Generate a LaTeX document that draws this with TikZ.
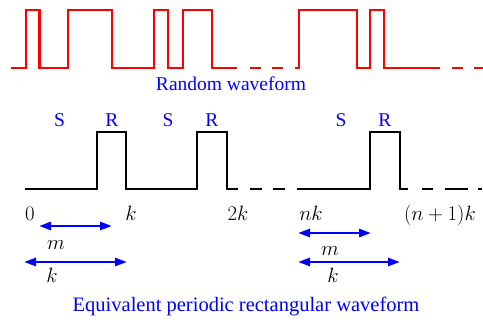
\documentclass[tikz,border=0pt]{standalone}
\usepackage{fontspec}
\setmainfont{Liberation Serif}
\usetikzlibrary{arrows.meta}
\definecolor{pureblue}{RGB}{0,0,255}
\definecolor{purered}{RGB}{255,0,0}
\tikzset{
  redwave/.style={draw=purered, line width=2.8pt, line join=miter},
  blackwave/.style={draw=black, line width=2.8pt, line join=miter},
  dim/.style={draw=pureblue, line width=2.6pt, {Triangle[length=12pt,width=8pt]}-{Triangle[length=12pt,width=8pt]}},
  title/.style={text=pureblue, font=\fontsize{19.5}{21}\selectfont, anchor=base, inner sep=0pt},
  sr/.style={text=pureblue, font=\fontsize{19.5}{21}\selectfont, anchor=base, inner sep=0pt},
  ax/.style={font=\fontsize{22.5}{24}\selectfont, anchor=base, inner sep=0pt},
}
\begin{document}
\begin{tikzpicture}[x=1pt,y=-1pt]
\useasboundingbox (0,0) rectangle (483,322);
% random waveform
\draw[redwave] (11,68) -- (26,68) -- (26,10) -- (39.5,10) -- (39.5,68) -- (68,68) -- (68,10) -- (112,10) -- (112,68) -- (154,68) -- (154,10) -- (168,10) -- (168,68) -- (183,68) -- (183,10) -- (212,10) -- (212,68) -- (237,68);
\draw[redwave] (250,68) -- (261,68);
\draw[redwave] (272,68) -- (283,68);
\draw[redwave] (295,68) -- (299,68) -- (299,10) -- (357,10) -- (357,68) -- (370,68) -- (370,10) -- (384,10) -- (384,68) -- (440,68);
\draw[redwave] (452,68) -- (463,68);
\draw[redwave] (474,68) -- (483,68);
\node[title] (rt) at (231,90) {Random waveform};
% periodic waveform
\draw[blackwave] (25,189) -- (97,189) -- (97,132) -- (126,132) -- (126,189) -- (197,189) -- (197,132) -- (227,132) -- (227,189) -- (238,189);
\draw[blackwave] (250,189) -- (262,189);
\draw[blackwave] (273,189) -- (285,189);
\draw[blackwave] (297,189) -- (370,189) -- (370,132) -- (400,132) -- (400,189) -- (408,189);
\draw[blackwave] (422,189) -- (433,189);
\draw[blackwave] (445,189) -- (468,189);
\draw[blackwave] (478,189) -- (482,189);
\node[sr] (s1) at (59.5,126) {S};
\node[sr] (r1) at (112,126) {R};
\node[sr] (s2) at (168,126) {S};
\node[sr] (r2) at (212,126) {R};
\node[sr] (s3) at (341,126) {S};
\node[sr] (r3) at (385,126) {R};
% axis labels
\node[ax] (l0) at (30,220) {$0$};
\node[ax] (l1) at (131,220) {$k$};
\node[ax] (l2) at (238,220) {$2k$};
\node[ax] (l3) at (311,220) {$nk$};
\node[ax] (l4) at (440,220) {$(n+1)k$};
% dimension arrows
\coordinate (ma1) at (39,226);
\coordinate (mb1) at (112,226);
\coordinate (ka1) at (24,262);
\coordinate (kb1) at (127,262);
\coordinate (ma2) at (298,233);
\coordinate (mb2) at (371,233);
\coordinate (ka2) at (298,262);
\coordinate (kb2) at (400,262);
\draw[dim] (ma1) -- (mb1);
\draw[dim] (ka1) -- (kb1);
\draw[dim] (ma2) -- (mb2);
\draw[dim] (ka2) -- (kb2);
\node[ax] (m1) at (56,249) {$m$};
\node[ax] (k1) at (52,282) {$k$};
\node[ax] (m2) at (330,255) {$m$};
\node[ax] (k2) at (333,282) {$k$};
\node[title, font=\fontsize{20.5}{22}\selectfont] (et) at (246,311) {Equivalent periodic rectangular waveform};
\end{tikzpicture}
\end{document}
